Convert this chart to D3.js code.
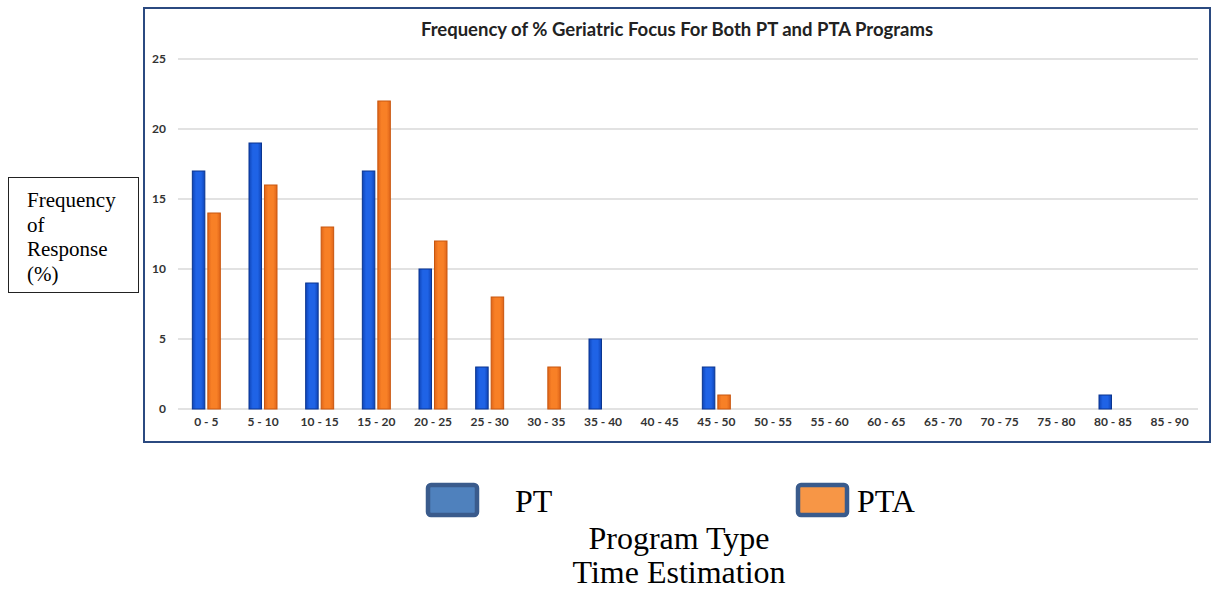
<!DOCTYPE html>
<html><head><meta charset="utf-8">
<script src="https://cdn.jsdelivr.net/npm/d3@7"></script>
<style>body{margin:0;background:#fff}</style>
</head><body>
<svg id="c" width="1212" height="590"></svg>
<script>
const categories = ["0 - 5","5 - 10","10 - 15","15 - 20","20 - 25","25 - 30","30 - 35","35 - 40","40 - 45","45 - 50","50 - 55","55 - 60","60 - 65","65 - 70","70 - 75","75 - 80","80 - 85","85 - 90"];
const ptValues  = [17,19,9,17,10,3,0,5,0,3,0,0,0,0,0,0,1,0];
const ptaValues = [14,16,13,22,12,8,3,0,0,1,0,0,0,0,0,0,0,0];
const yTicks = [0,5,10,15,20,25];
const seriesNames = ["PT","PTA"];

const svg = d3.select("#c");
const defs = svg.append("defs");
function grad(id, edge, mid){
  const g = defs.append("linearGradient").attr("id",id).attr("x1","0").attr("x2","1").attr("y1","0").attr("y2","0");
  g.append("stop").attr("offset","0").attr("stop-color",edge);
  g.append("stop").attr("offset","0.3").attr("stop-color",mid);
  g.append("stop").attr("offset","0.7").attr("stop-color",mid);
  g.append("stop").attr("offset","1").attr("stop-color",edge);
}
grad("gPT","#0f45b8","#1f63e6");
grad("gPTA","#e0661a","#f88026");

// frame
svg.append("rect").attr("x",144).attr("y",8).attr("width",1066).attr("height",434)
  .attr("fill","#fff").attr("stroke","#2b4a80").attr("stroke-width",2);

const x = d3.scaleBand().domain(categories).range([178,1198]);
const y = d3.scaleLinear().domain([0,25]).range([409,59]);

// gridlines
svg.append("g").selectAll("line").data(yTicks).join("line")
  .attr("x1",178).attr("x2",1198).attr("y1",d=>y(d)).attr("y2",d=>y(d))
  .attr("stroke","#d9d9d9").attr("stroke-width",1.6);

const tickFont = "Lato, Open Sans, sans-serif";
// y axis labels
const yAxis = d3.axisLeft(y).tickValues(yTicks).tickSize(0).tickPadding(0);
const gy = svg.append("g").attr("transform","translate(166,0)").call(yAxis);
gy.select(".domain").remove();
gy.selectAll("text").attr("font-family",tickFont).attr("font-weight","bold")
  .attr("font-size","12px").attr("fill","#333");

// x axis labels
const xAxis = d3.axisBottom(x).tickSize(0).tickPadding(0);
const gx = svg.append("g").attr("transform","translate(0,417)").call(xAxis);
gx.select(".domain").remove();
gx.selectAll("text").attr("font-family",tickFont).attr("font-weight","bold")
  .attr("font-size","12px").attr("fill","#333");

// bars
const bw = 12.5, gap = 3;
const data = categories.map((c,i)=>({c, pt:ptValues[i], pta:ptaValues[i]}));
svg.append("g").selectAll("rect").data(data.filter(d=>d.pt>0)).join("rect")
  .attr("x",d=>x(d.c)+x.bandwidth()/2-gap/2-bw).attr("width",bw)
  .attr("y",d=>y(d.pt)).attr("height",d=>y(0)-y(d.pt))
  .attr("fill","url(#gPT)").attr("stroke","#0a3590").attr("stroke-width",1);
svg.append("g").selectAll("rect").data(data.filter(d=>d.pta>0)).join("rect")
  .attr("x",d=>x(d.c)+x.bandwidth()/2+gap/2).attr("width",bw)
  .attr("y",d=>y(d.pta)).attr("height",d=>y(0)-y(d.pta))
  .attr("fill","url(#gPTA)").attr("stroke","#c8560e").attr("stroke-width",1);

// title
svg.append("text").attr("x",677).attr("y",36).attr("text-anchor","middle")
  .attr("font-family",tickFont).attr("font-weight","bold").attr("font-size","18.5px")
  .attr("fill","#222").text("Frequency of % Geriatric Focus For Both PT and PTA Programs");

// y label box
svg.append("rect").attr("x",8.5).attr("y",177.5).attr("width",130).attr("height",115)
  .attr("fill","#fff").attr("stroke","#222").attr("stroke-width",1);
const yl = svg.append("text").attr("font-family","Liberation Serif, Times New Roman, serif")
  .attr("font-size","21px").attr("fill","#000");
["Frequency","of","Response","(%)"].forEach((t,i)=>{
  yl.append("tspan").attr("x",27).attr("y",207+i*24.5).text(t);
});

// legend
const legendColors = ["#4f81bd","#f79646"];
const legendX = [428,798];
const legendTextX = [515,857];
const serif = "Liberation Serif, Times New Roman, serif";
seriesNames.forEach((n,i)=>{
  svg.append("rect").attr("x",legendX[i]).attr("y",485).attr("width",49).attr("height",30).attr("rx",3)
    .attr("fill",legendColors[i]).attr("stroke","#3a5b8c").attr("stroke-width",4.5);
  svg.append("text").attr("x",legendTextX[i]).attr("y",512)
    .attr("font-family",serif).attr("font-size","32px").attr("fill","#000").text(n);
});
svg.append("text").attr("x",679).attr("y",549).attr("text-anchor","middle")
  .attr("font-family",serif).attr("font-size","32px").attr("fill","#000").text("Program Type");
svg.append("text").attr("x",679).attr("y",583).attr("text-anchor","middle")
  .attr("font-family",serif).attr("font-size","32px").attr("fill","#000").text("Time Estimation");
</script>
</body></html>
